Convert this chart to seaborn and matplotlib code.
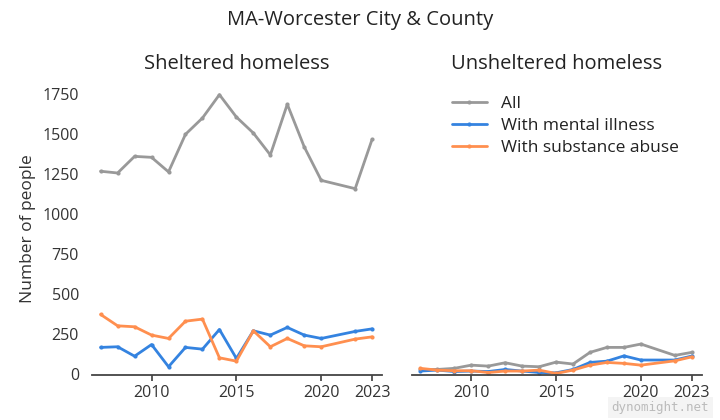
import pandas as pd
import matplotlib.pyplot as plt
import seaborn as sns

# Point-in-time counts, MA-Worcester City & County (no 2021 count)
years = [2007, 2008, 2009, 2010, 2011, 2012, 2013, 2014, 2015, 2016, 2017, 2018, 2019, 2020, 2022, 2023]

sheltered_all = [1269, 1258, 1362, 1356, 1265, 1500, 1602, 1748, 1608, 1508, 1371, 1688, 1421, 1212, 1160, 1469]
sheltered_mental = [167, 171, 112, 185, 46, 167, 156, 279, 98, 271, 244, 292, 244, 223, 267, 283]
sheltered_substance = [373, 302, 296, 244, 223, 331, 344, 102, 81, 271, 171, 223, 177, 171, 219, 233]

unsheltered_all = [29, 29, 36, 56, 50, 71, 50, 46, 75, 63, 136, 167, 167, 188, 117, 136]
unsheltered_mental = [19, 25, 16, 19, 16, 29, 19, 10, 8, 29, 73, 81, 114, 88, 88, 113]
unsheltered_substance = [36, 25, 21, 21, 10, 19, 19, 25, 4, 25, 56, 73, 67, 56, 83, 108]

groups = ['All', 'With mental illness', 'With substance abuse']
colors = ['#999999', '#3483e0', '#ff8f4f']
panels = ['Sheltered homeless', 'Unsheltered homeless']


def long_df(all_, mental, substance):
    rows = []
    for name, vals in zip(groups, [all_, mental, substance]):
        for y, v in zip(years, vals):
            rows.append({'year': y, 'people': v, 'group': name})
    return pd.DataFrame(rows)


data = [long_df(sheltered_all, sheltered_mental, sheltered_substance),
        long_df(unsheltered_all, unsheltered_mental, unsheltered_substance)]

sns.set_theme(style='white')
plt.rcParams['font.family'] = ['Open Sans', 'DejaVu Sans']

fig = plt.figure(figsize=(7.2, 4.2), dpi=100)
ax1 = fig.add_axes([0.128, 0.107, 0.403, 0.695])
ax2 = fig.add_axes([0.572, 0.107, 0.403, 0.695], sharey=ax1)

for i, (ax, df, title) in enumerate(zip([ax1, ax2], data, panels)):
    sns.lineplot(data=df, x='year', y='people', hue='group', hue_order=groups,
                 palette=colors, marker='o', markersize=3, markeredgewidth=0,
                 linewidth=2, ax=ax, legend=(i == 1))
    ax.set_title(title, fontsize=14.5, color='#222222', pad=10)
    ax.set_xlim(2006.5, 2023.6)
    ax.set_ylim(-6, 1820)
    ax.set_xticks([2010, 2015, 2020, 2023])
    ax.set_xlabel('')
    sns.despine(ax=ax, left=True)
    ax.spines['bottom'].set_color('#444444')
    ax.spines['bottom'].set_linewidth(1.3)
    ax.tick_params(axis='x', bottom=True, length=4, color='#444444',
                   labelsize=11.5, labelcolor='#333333')
    ax.tick_params(axis='y', left=False, labelsize=11.5, labelcolor='#333333')

ax1.set_yticks([0, 250, 500, 750, 1000, 1250, 1500, 1750])
ax1.set_ylabel('Number of people', fontsize=12.5, color='#333333', labelpad=5)
ax2.set_ylabel('')
ax2.tick_params(axis='y', labelleft=False)

leg = ax2.legend(loc='upper left', bbox_to_anchor=(0.085, 1.01), frameon=False,
                 fontsize=12.5, handlelength=2.0, labelspacing=0.35)
for t in leg.get_texts():
    t.set_color('#222222')

fig.suptitle('MA-Worcester City & County', fontsize=14.5, color='#222222', y=0.975)

fig.text(0.985, 0.015, 'dynomight.net', ha='right', va='bottom', fontsize=9,
         family='DejaVu Sans Mono', color='#bbbbbb',
         bbox=dict(facecolor='#f4f4f4', edgecolor='none', pad=3))

plt.savefig('out.png', dpi=100)
